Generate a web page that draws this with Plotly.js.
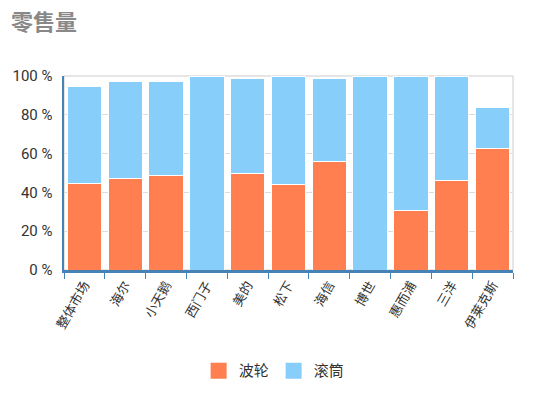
<!DOCTYPE html>
<html><head><meta charset="utf-8">
<script src="https://cdn.plot.ly/plotly-3.0.1.min.js"></script>
<style>body{margin:0;background:#fff}#c{width:550px;height:399px}</style>
</head><body><div id="c"></div>
<script>
var categories = ["整体市场","海尔","小天鹅","西门子","美的","松下","海信","博世","惠而浦","三洋","伊莱克斯"];
var wheelValues = [44.7, 47.4, 48.8, 0, 49.5, 44.2, 56.1, 0, 30.8, 46.1, 62.8];
var drumValues  = [49.8, 49.9, 48.5, 100, 49.1, 55.8, 42.5, 100, 69.2, 53.9, 21.0];
var seriesNames = ["波轮","滚筒"];
var seriesColors = ["#FF7F50","#87CEFA"];
var yTicks = [0,20,40,60,80,100];
var yTickText = ["0 %","20 %","40 %","60 %","80 %","100 %"];

var font = "Roboto, 'Noto Sans CJK SC', sans-serif";
var traces = [
  {type:"bar", name:seriesNames[0], x:categories, y:wheelValues, showlegend:false,
   marker:{color:seriesColors[0], line:{color:"#ffffff", width:1}}, hoverinfo:"none"},
  {type:"bar", name:seriesNames[1], x:categories, y:drumValues, showlegend:false,
   marker:{color:seriesColors[1], line:{color:"#ffffff", width:1}}, hoverinfo:"none"},
  {type:"scatter", mode:"markers", name:seriesNames[0], x:[null], y:[null],
   marker:{symbol:"square", size:18, color:seriesColors[0]}},
  {type:"scatter", mode:"markers", name:seriesNames[1], x:[null], y:[null],
   marker:{symbol:"square", size:18, color:seriesColors[1]}}
];
var layout = {
  width:550, height:399, barmode:"stack", bargap:0.16,
  paper_bgcolor:"#fff", plot_bgcolor:"#fff",
  margin:{l:64, r:37, t:76, b:127},
  font:{family:font, color:"#333", size:13},
  title:{text:"<b>零售量</b>", x:0.02, xanchor:"left", y:0.945, yanchor:"middle",
         font:{family:font, size:22, color:"#888"}},
  xaxis:{type:"category", tickangle:-60, tickson:"boundaries", ticks:"outside",
         ticklen:6, tickcolor:"#4682B4", tickwidth:1,
         showline:true, linecolor:"#4682B4", linewidth:2.5, showgrid:false,
         tickfont:{size:13, color:"#333"}, zeroline:false},
  yaxis:{range:[0,100], tickmode:"array", tickvals:yTicks, ticktext:yTickText, showline:true,
         linecolor:"#4682B4", linewidth:2.5, gridcolor:"#dddddd", gridwidth:1,
         tickfont:{size:15, color:"#333"}, zeroline:false, ticks:"", ticklabelstandoff:6},
  shapes:[{type:"rect", xref:"paper", yref:"paper", x0:0, x1:1, y0:0, y1:1,
           line:{color:"#cccccc", width:1}, layer:"below"}],
  legend:{orientation:"h", x:0.468, xanchor:"center", y:-0.52, yanchor:"middle",
          traceorder:"normal", itemsizing:"trace",
          font:{size:15, color:"#333"}}
};
Plotly.newPlot("c", traces, layout, {displayModeBar:false, staticPlot:true});
</script></body></html>
